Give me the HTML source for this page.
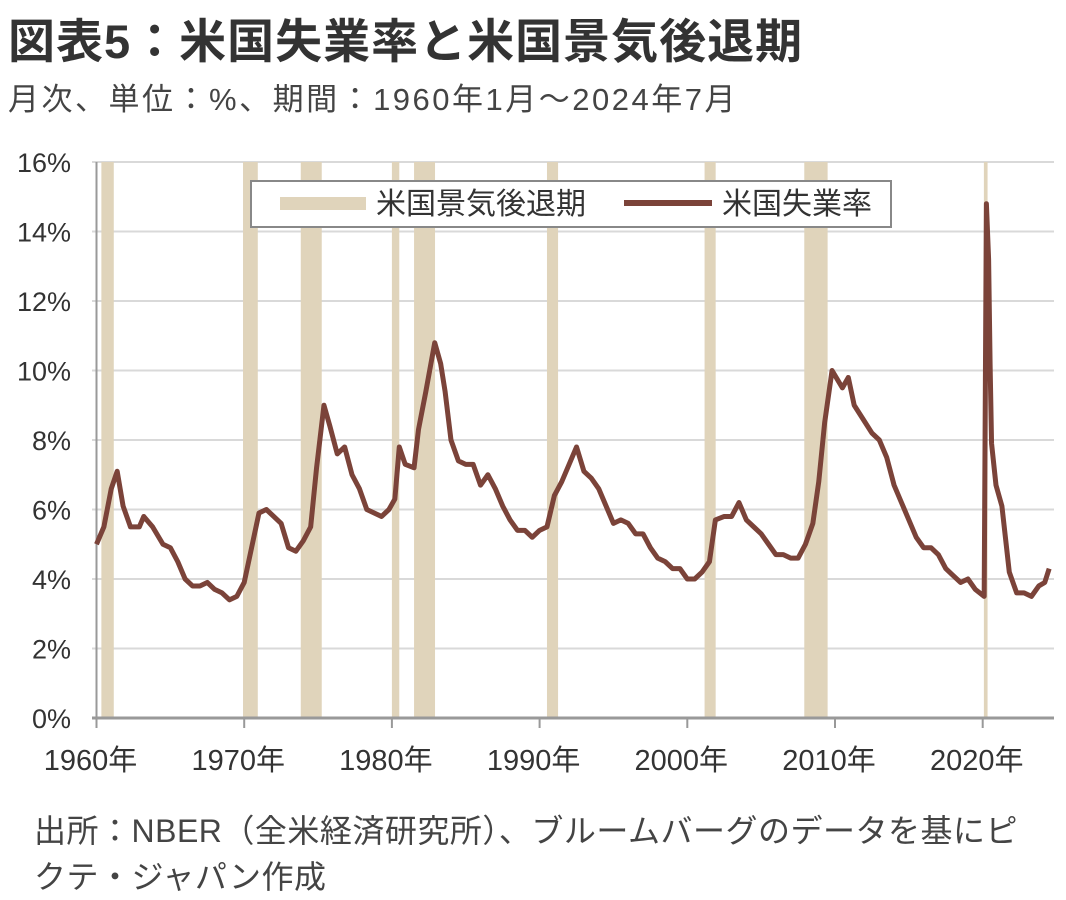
<!DOCTYPE html>
<html><head><meta charset="utf-8"><style>
body{margin:0;background:#fff;width:1066px;height:899px;overflow:hidden;font-family:"Liberation Sans","Noto Sans CJK JP",sans-serif;color:#333}
.t{position:absolute;left:8px;top:3px;font-size:47px;font-weight:bold;color:#333;white-space:nowrap;letter-spacing:1px}
.s{position:absolute;left:8px;top:74px;font-size:31px;color:#444;white-space:nowrap;letter-spacing:2.5px}
.f{position:absolute;left:34px;top:808px;font-size:32px;color:#444;line-height:46px;white-space:nowrap;letter-spacing:0.5px}
svg{position:absolute;left:0;top:0}
</style></head><body>
<div class="t">図表5：米国失業率と米国景気後退期</div>
<div class="s">月次、単位：%、期間：1960年1月～2024年7月</div>
<svg id="c" width="1066" height="899"></svg>
<div class="f">出所：NBER（全米経済研究所）、ブルームバーグのデータを基にピ<br>クテ・ジャパン作成</div>
<script>
const recStart=[1960.33,1969.92,1973.83,1980.0,1981.5,1990.5,2001.17,2007.92,2020.08];
const recEnd=[1961.17,1970.92,1975.25,1980.5,1982.92,1991.25,2001.92,2009.5,2020.33];
const years=[1960.0,1960.5,1961.0,1961.4,1961.8,1962.3,1962.9,1963.2,1963.8,1964.5,1965.0,1965.5,1966.0,1966.5,1967.0,1967.5,1968.0,1968.5,1969.0,1969.5,1970.0,1970.5,1971.0,1971.5,1972.0,1972.5,1973.0,1973.5,1974.0,1974.5,1974.9,1975.4,1975.8,1976.3,1976.8,1977.3,1977.8,1978.3,1978.8,1979.3,1979.8,1980.2,1980.5,1980.9,1981.5,1981.8,1982.3,1982.9,1983.3,1983.6,1984.0,1984.5,1985.0,1985.5,1986.0,1986.5,1987.0,1987.5,1988.0,1988.5,1989.0,1989.5,1990.0,1990.5,1991.0,1991.5,1992.0,1992.5,1993.0,1993.5,1994.0,1994.5,1995.0,1995.5,1996.0,1996.5,1997.0,1997.5,1998.0,1998.5,1999.0,1999.5,2000.0,2000.5,2001.0,2001.5,2001.9,2002.5,2003.0,2003.5,2004.0,2004.5,2005.0,2005.5,2006.0,2006.5,2007.0,2007.5,2008.0,2008.5,2008.9,2009.3,2009.8,2010.5,2010.9,2011.3,2011.9,2012.5,2013.0,2013.5,2014.0,2014.5,2015.0,2015.5,2016.0,2016.5,2017.0,2017.5,2018.0,2018.5,2019.0,2019.5,2020.1,2020.25,2020.4,2020.5,2020.6,2020.9,2021.3,2021.8,2022.3,2022.8,2023.3,2023.8,2024.2,2024.5];
const rates=[5.0,5.5,6.6,7.1,6.1,5.5,5.5,5.8,5.5,5.0,4.9,4.5,4.0,3.8,3.8,3.9,3.7,3.6,3.4,3.5,3.9,4.9,5.9,6.0,5.8,5.6,4.9,4.8,5.1,5.5,7.2,9.0,8.4,7.6,7.8,7.0,6.6,6.0,5.9,5.8,6.0,6.3,7.8,7.3,7.2,8.3,9.4,10.8,10.2,9.4,8.0,7.4,7.3,7.3,6.7,7.0,6.6,6.1,5.7,5.4,5.4,5.2,5.4,5.5,6.4,6.8,7.3,7.8,7.1,6.9,6.6,6.1,5.6,5.7,5.6,5.3,5.3,4.9,4.6,4.5,4.3,4.3,4.0,4.0,4.2,4.5,5.7,5.8,5.8,6.2,5.7,5.5,5.3,5.0,4.7,4.7,4.6,4.6,5.0,5.6,6.8,8.5,10.0,9.5,9.8,9.0,8.6,8.2,8.0,7.5,6.7,6.2,5.7,5.2,4.9,4.9,4.7,4.3,4.1,3.9,4.0,3.7,3.5,14.8,13.2,10.2,7.9,6.7,6.1,4.2,3.6,3.6,3.5,3.8,3.9,4.3];
const yTicks=[0,2,4,6,8,10,12,14,16];
const xTicks=[1960,1970,1980,1990,2000,2010,2020];
const NS="http://www.w3.org/2000/svg",svg=document.getElementById('c');
const X=y=>96.5+(y-1960)*14.77, Y=v=>718-v*34.75;
function mk(t,a,p){const e=document.createElementNS(NS,t);for(const k in a)e.setAttribute(k,a[k]);(p||svg).appendChild(e);return e;}
yTicks.forEach(v=>{
 if(v>0){const g=mk('line',{x1:92,x2:1054,y1:Y(v),y2:Y(v),stroke:'#d9d9d9','stroke-width':2});
 
 }
 const t=mk('text',{x:71,y:Y(v)+10,'text-anchor':'end','font-size':27,fill:'#333'});t.textContent=v+'%';
 
 
});
recStart.forEach((s,i)=>{
 const r=mk('rect',{x:X(s),y:Y(16),width:Math.max(3,X(recEnd[i])-X(s)),height:Y(0)-Y(16),fill:'#e0d4bb'});
 
 
});
const ax=mk('line',{x1:92,x2:1054,y1:718,y2:718,stroke:'#999','stroke-width':3});


const ay=mk('line',{x1:96.5,x2:96.5,y1:162,y2:718,stroke:'#999','stroke-width':2});


xTicks.forEach(y=>{
 mk('line',{x1:X(y),x2:X(y),y1:718,y2:728,stroke:'#999','stroke-width':2});
 const t=mk('text',{x:X(y)-6,y:770,'text-anchor':'middle','font-size':29,fill:'#333'});t.textContent=y+'年';
 
 
});
const pl=mk('polyline',{points:years.map((y,i)=>X(y)+','+Y(rates[i])).join(' '),fill:'none',stroke:'#7b4339','stroke-width':5,'stroke-linejoin':'round'});


const lg=mk('g',{});


mk('rect',{x:251,y:181,width:640,height:46,fill:'#fff',stroke:'#888','stroke-width':2},lg);
mk('rect',{x:280,y:197,width:86,height:13,fill:'#e0d4bb'},lg);
const t1=mk('text',{x:376,y:214,'font-size':30,fill:'#333'},lg);t1.textContent='米国景気後退期';
mk('line',{x1:624,x2:712,y1:203,y2:203,stroke:'#7b4339','stroke-width':6},lg);
const t2=mk('text',{x:722,y:214,'font-size':30,fill:'#333'},lg);t2.textContent='米国失業率';
</script>
</body></html>
